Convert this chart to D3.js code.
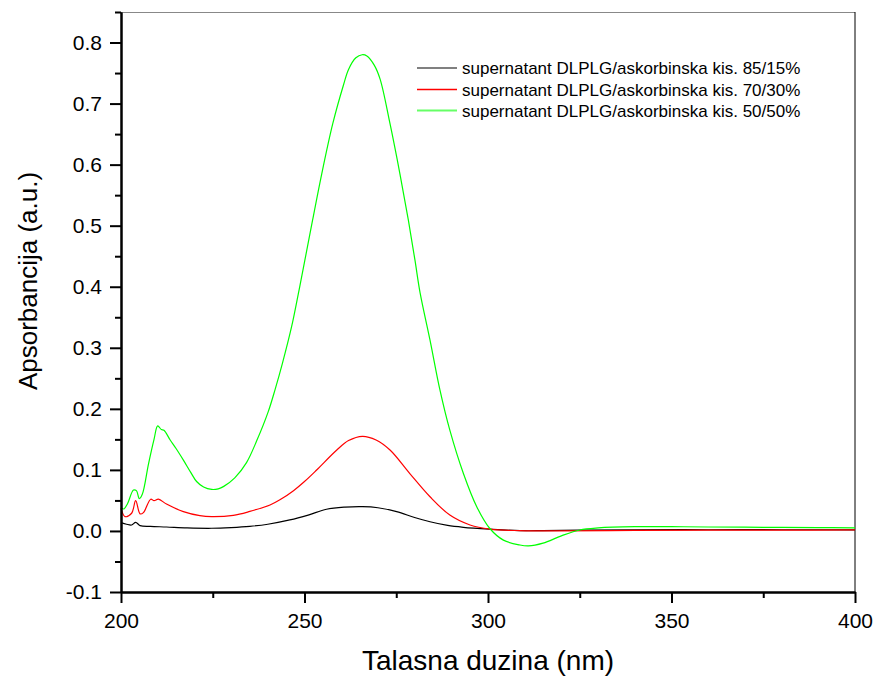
<!DOCTYPE html>
<meta charset="utf-8">
<script src="https://d3js.org/d3.v7.min.js"></script>
<style>
body { margin: 0; background: #fff; }
text { font-family: "Liberation Sans", Arial, sans-serif; }
</style>
<div id="chart"></div>
<script>
// wavelength (nm) and absorbance for each sample
var seriesNames = ["supernatant DLPLG/askorbinska kis. 85/15%",
                   "supernatant DLPLG/askorbinska kis. 70/30%",
                   "supernatant DLPLG/askorbinska kis. 50/50%"];
var seriesColors = ["#000000", "#ff0000", "#00ff00"];

var wl85 = [200, 201.5, 202.9, 204, 205.2, 208, 212.4, 218, 224.7, 230, 235.1, 240, 246, 251, 256, 261, 265.8, 270, 275.1, 280, 284.2, 289, 293.3, 300.5, 308.7, 315, 325, 340, 360, 380, 400];
var abs85 = [0.0136, 0.011, 0.0098, 0.0142, 0.0087, 0.0075, 0.0065, 0.005, 0.0044, 0.0055, 0.0075, 0.011, 0.018, 0.026, 0.0355, 0.039, 0.0398, 0.038, 0.0316, 0.022, 0.015, 0.009, 0.006, 0.003, 0.0005, 0.0005, 0.0012, 0.002, 0.002, 0.002, 0.0018];

var wl70 = [200, 201.1, 202.9, 204, 205.2, 206.1, 208.1, 209, 210.2, 212.4, 217, 221.5, 224.7, 230.6, 235.1, 240.6, 243.3, 247, 250, 253.3, 258.8, 262, 265.8, 269.5, 273.3, 278.7, 284.2, 289.6, 295.1, 300.5, 308.7, 320, 340, 360, 380, 400];
var abs70 = [0.037, 0.0235, 0.029, 0.0496, 0.028, 0.030, 0.052, 0.0496, 0.052, 0.044, 0.0316, 0.025, 0.0234, 0.0255, 0.032, 0.0425, 0.051, 0.066, 0.081, 0.0998, 0.1326, 0.148, 0.155, 0.149, 0.1326, 0.094, 0.056, 0.026, 0.0098, 0.003, 0.0005, 0.0, 0.001, 0.0012, 0.0014, 0.0016];

var wl50 = [200, 200.8, 201.8, 203.4, 204.2, 205, 205.8, 207.5, 209, 210, 211, 211.7, 213.4, 215, 217, 219, 220.6, 222.5, 224.7, 226.5, 228, 231, 234.2, 237, 240.1, 242, 244, 246.5, 248.3, 250.1, 252.2, 254.7, 257.7, 260.6, 262, 264, 265.7, 267, 269, 270.6, 273.3, 276, 278.3, 280.1, 281.5, 284.2, 286.9, 289.6, 293.3, 296.9, 300.5, 304.2, 308.7, 311, 315, 320, 325, 330, 340, 350, 360, 375, 390, 400];
var abs50 = [0.038, 0.036, 0.045, 0.067, 0.066, 0.053, 0.060, 0.110, 0.150, 0.172, 0.166, 0.165, 0.149, 0.135, 0.116, 0.096, 0.081, 0.072, 0.068, 0.069, 0.073, 0.087, 0.112, 0.148, 0.195, 0.232, 0.275, 0.335, 0.388, 0.4435, 0.509, 0.585, 0.667, 0.730, 0.756, 0.775, 0.780, 0.778, 0.763, 0.740, 0.667, 0.585, 0.509, 0.4435, 0.390, 0.3126, 0.231, 0.165, 0.094, 0.040, 0.004, -0.015, -0.023, -0.0245, -0.020, -0.008, 0.0016, 0.005, 0.007, 0.007, 0.0065, 0.006, 0.0055, 0.005];

var xMajor = [200, 250, 300, 350, 400];
var xMinor = [225, 275, 325, 375];
var yMajor = [-0.1, 0, 0.1, 0.2, 0.3, 0.4, 0.5, 0.6, 0.7, 0.8];
var yMinor = [-0.05, 0.05, 0.15, 0.25, 0.35, 0.45, 0.55, 0.65, 0.75, 0.85];

var width = 877, height = 679;
var plotL = 121, plotR = 855, plotT = 12, plotB = 592;

var svg = d3.select("#chart")
  .append("svg")
    .attr("width", width)
    .attr("height", height);

var x = d3.scaleLinear().domain([200, 400]).range([plotL, plotR]);
var y = d3.scaleLinear().domain([-0.1, 0.85]).range([plotB, plotT]);

// frame top and right
svg.append("line")
  .attr("x1", plotL).attr("x2", plotR).attr("y1", plotT + 0.5).attr("y2", plotT + 0.5)
  .attr("stroke", "#888").attr("stroke-width", 1);
svg.append("line")
  .attr("x1", plotR).attr("x2", plotR).attr("y1", plotT).attr("y2", plotB)
  .attr("stroke", "#000").attr("stroke-width", 1);

// curves
var all = [[wl85, abs85], [wl70, abs70], [wl50, abs50]];
var line = d3.line()
  .x(function(d) { return x(d[0]); })
  .y(function(d) { return y(d[1]); })
  .curve(d3.curveCatmullRom.alpha(0.5));

all.forEach(function(s, i) {
  var pts = s[0].map(function(w, j) { return [w, s[1][j]]; });
  svg.append("path")
    .datum(pts)
    .attr("fill", "none")
    .attr("stroke", seriesColors[i])
    .attr("stroke-width", 1.2)
    .attr("d", line);
});

// axes
var fmt = function(d) { return d3.format(".1f")(d).replace("\u2212", "-"); };
function styleAxis(g) {
  g.select(".domain").attr("stroke-width", 2);
  g.selectAll(".tick line").attr("stroke-width", 2);
  g.selectAll("text").style("font-family", "'Liberation Sans', Arial, sans-serif")
    .style("font-size", "21px").attr("fill", "#000");
}

svg.append("g")
  .attr("transform", "translate(0," + plotB + ")")
  .call(d3.axisBottom(x).tickValues(xMinor).tickSize(6).tickSizeOuter(0).tickFormat(""))
  .call(styleAxis);
svg.append("g")
  .attr("transform", "translate(0," + plotB + ")")
  .call(d3.axisBottom(x).tickValues(xMajor).tickSize(11).tickSizeOuter(0).tickPadding(10))
  .call(styleAxis);

svg.append("g")
  .attr("transform", "translate(" + plotL + ",0)")
  .call(d3.axisLeft(y).tickValues(yMinor).tickSize(6).tickSizeOuter(0).tickFormat(""))
  .call(styleAxis);
svg.append("g")
  .attr("transform", "translate(" + plotL + ",0)")
  .call(d3.axisLeft(y).tickValues(yMajor).tickSize(11).tickSizeOuter(0).tickPadding(8).tickFormat(fmt))
  .call(styleAxis);

// axis titles
svg.append("text")
  .attr("x", (plotL + plotR) / 2)
  .attr("y", 670)
  .attr("text-anchor", "middle")
  .style("font-size", "28px")
  .text("Talasna duzina (nm)");

svg.append("text")
  .attr("transform", "translate(37,281) rotate(-90)")
  .attr("text-anchor", "middle")
  .style("font-size", "26px")
  .text("Apsorbancija (a.u.)");

// legend
var legendY = [68, 89.5, 110.5];
var legendStroke = ["#808080", "#ff0000", "#66ff66"];
var legendWidth = [2, 1.5, 2];
seriesNames.forEach(function(name, i) {
  svg.append("line")
    .attr("x1", 417).attr("x2", 457)
    .attr("y1", legendY[i]).attr("y2", legendY[i])
    .attr("stroke", legendStroke[i])
    .attr("stroke-width", legendWidth[i]);
  svg.append("text")
    .attr("x", 462)
    .attr("y", legendY[i] + 6)
    .style("font-size", "17px")
    .text(name);
});
</script>
